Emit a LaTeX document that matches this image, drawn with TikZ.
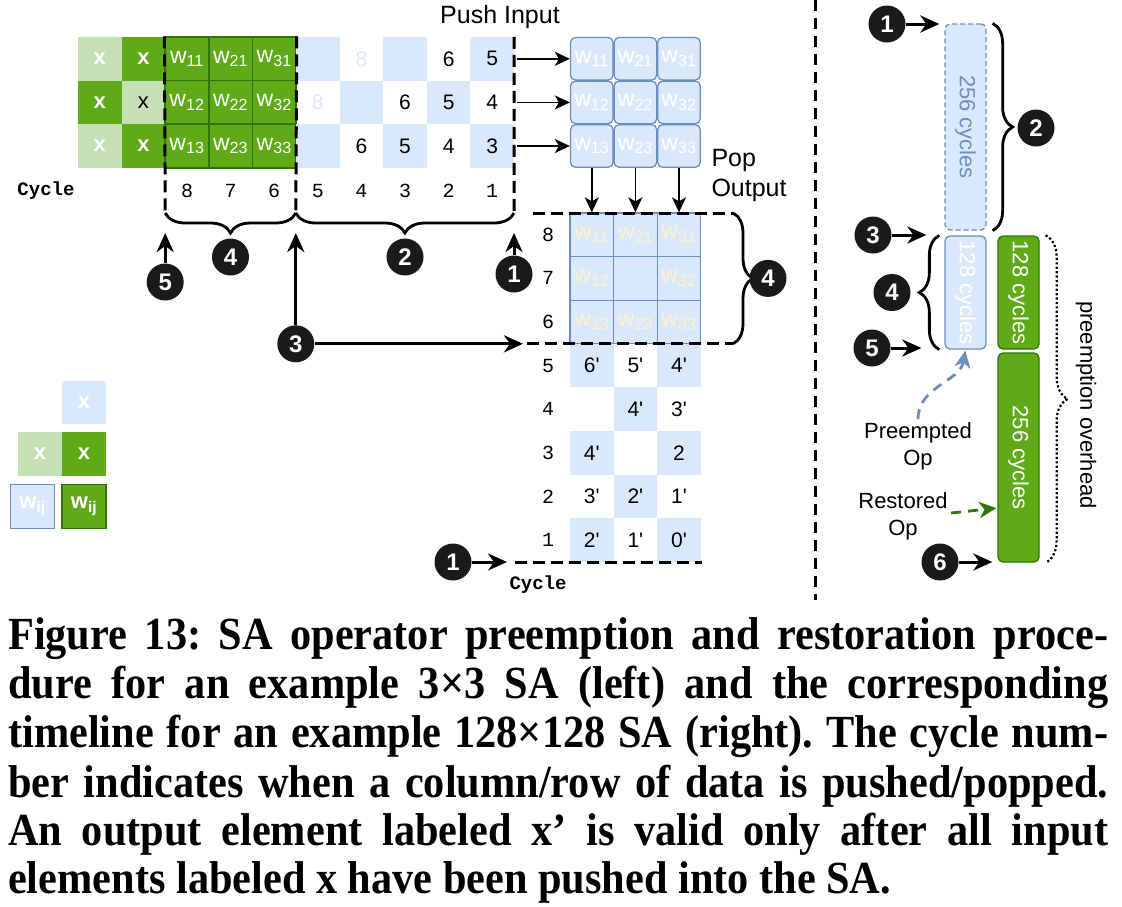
\documentclass[tikz,border=0pt]{standalone}
\usepackage{fontspec}
\setmainfont{Liberation Sans}
\newfontfamily\capfont[FakeStretch=0.92]{Liberation Serif}
\newfontfamily\cycfont{Liberation Mono}
\usepackage{xcolor}
\usepackage{tikz}
\usetikzlibrary{arrows.meta,positioning,calc,decorations.pathreplacing}
\definecolor{PaleBlue}{HTML}{DAE8FC}
\definecolor{EdgeBlue}{HTML}{6C8EBF}
\definecolor{SAGreen}{HTML}{60A917}
\definecolor{DarkGreen}{HTML}{2D7600}
\definecolor{PaleGreen}{HTML}{C5E0B4}
\definecolor{PaleYellow}{HTML}{FFF2CC}
\definecolor{Badge}{HTML}{1A1A1A}
\newcommand{\pq}{\textquotesingle}
\frenchspacing

\begin{document}
\begin{tikzpicture}[x=1pt,y=-1pt,
cell/.style={minimum width=43.6pt,minimum height=43.6pt,inner sep=0pt,font=\fontsize{21}{21}\selectfont},
bcell/.style={cell,fill=PaleBlue},
gcell/.style={cell,fill=SAGreen,text=white,font=\fontsize{22}{22}\selectfont\bfseries},
lgcell/.style={cell,fill=PaleGreen,text=white,font=\fontsize{22}{22}\selectfont\bfseries},
wgt/.style={cell,fill=SAGreen,draw=DarkGreen,line width=1.5pt,text=white,font=\fontsize{23}{23}\selectfont},
pe/.style={cell,minimum width=42.6pt,minimum height=42.6pt,fill=PaleBlue,draw=EdgeBlue,line width=1.3pt,rounded corners=5pt,text=white,font=\fontsize{23}{23}\selectfont},
outw/.style={cell,fill=PaleBlue,draw=EdgeBlue,line width=1.3pt,text=PaleYellow,font=\fontsize{23}{23}\selectfont},
num/.style={font=\cycfont\fontsize{20}{20}\selectfont},
cyc/.style={font=\cycfont\bfseries\fontsize{19}{19}\selectfont},
lab/.style={font=\fontsize{25}{30}\selectfont,align=left},
badge/.style={circle,fill=Badge,text=white,minimum size=37pt,inner sep=0pt,font=\fontsize{24}{24}\selectfont\bfseries},
arr/.style={-{Stealth[length=19pt,width=17pt,inset=6pt]},line width=3pt},
feed/.style={-{Stealth[length=15pt,width=14pt,inset=4pt]},line width=1.6pt},
cutline/.style={dash pattern=on 12pt off 6pt,line width=3pt},
brc/.style={decorate,decoration={brace,amplitude=20pt},line width=2.8pt},
dotbrc/.style={decorate,decoration={brace,amplitude=22pt},line width=2.2pt,dash pattern=on 2.2pt off 2.2pt},
tbox/.style={minimum width=41pt,inner sep=0pt,rounded corners=5pt,line width=1.3pt},
ttext/.style={rotate=-90,font=\fontsize{22}{22}\selectfont},
note/.style={align=center,font=\fontsize{22}{27}\selectfont},
bluearr/.style={-{Stealth[length=17pt,width=16pt,inset=5pt]},draw=EdgeBlue,line width=2.8pt,dash pattern=on 10pt off 7pt},
grarr/.style={-{Stealth[length=17pt,width=16pt,inset=5pt]},draw=DarkGreen,line width=2.8pt,dash pattern=on 10pt off 7pt},
capline/.style={anchor=base west,inner sep=0pt,font=\capfont\bfseries\fontsize{46}{46}\selectfont}]
\useasboundingbox (0,0) rectangle (1122,906);
% input side
\node[lgcell] (x1a) at (99.8,58.8) {x};
\node[gcell] (x1b) at (143.4,58.8) {x};
\node[wgt] (w11) at (187,58.8) {w\textsubscript{11}};
\node[wgt] (w21) at (230.6,58.8) {w\textsubscript{21}};
\node[wgt] (w31) at (274.2,58.8) {w\textsubscript{31}};
\node[bcell] (i1a) at (317.8,58.8) {};
\node[cell,text=PaleBlue] (i1b) at (361.4,58.8) {8};
\node[bcell] (i1c) at (405,58.8) {};
\node[cell] (i1d) at (448.6,58.8) {6};
\node[bcell] (i1e) at (492.2,58.8) {5};
\node[gcell] (x2a) at (99.8,102.4) {x};
\node[lgcell,text=black,font=\fontsize{22}{22}\selectfont] (x2b) at (143.4,102.4) {x};
\node[wgt] (w12) at (187,102.4) {w\textsubscript{12}};
\node[wgt] (w22) at (230.6,102.4) {w\textsubscript{22}};
\node[wgt] (w32) at (274.2,102.4) {w\textsubscript{32}};
\node[cell,text=PaleBlue] (i2a) at (317.8,102.4) {8};
\node[bcell] (i2b) at (361.4,102.4) {};
\node[cell] (i2c) at (405,102.4) {6};
\node[bcell] (i2d) at (448.6,102.4) {5};
\node[cell] (i2e) at (492.2,102.4) {4};
\node[lgcell] (x3a) at (99.8,146) {x};
\node[gcell] (x3b) at (143.4,146) {x};
\node[wgt] (w13) at (187,146) {w\textsubscript{13}};
\node[wgt] (w23) at (230.6,146) {w\textsubscript{23}};
\node[wgt] (w33) at (274.2,146) {w\textsubscript{33}};
\node[bcell] (i3a) at (317.8,146) {};
\node[cell] (i3b) at (361.4,146) {6};
\node[bcell] (i3c) at (405,146) {5};
\node[cell] (i3d) at (448.6,146) {4};
\node[bcell] (i3e) at (492.2,146) {3};
\node[cyc] (cyc1) at (46,191) {Cycle};
\node[num] (n8) at (187,191) {8};
\node[num] (n7) at (230.6,191) {7};
\node[num] (n6) at (274.2,191) {6};
\node[num] (n5) at (317.8,191) {5};
\node[num] (n4) at (361.4,191) {4};
\node[num] (n3) at (405,191) {3};
\node[num] (n2) at (448.6,191) {2};
\node[num] (n1) at (492.2,191) {1};
\coordinate (bL) at (165.2,213);
\coordinate (bM) at (295.8,213);
\coordinate (bR) at (514,213);
\draw[cutline] (w11.north west) -- (bL);
\draw[cutline] (w31.north east) -- (bM);
\draw[cutline] (i1e.north east) -- (bR);
\draw[brc] (bM) -- (bL);
\draw[brc] (bR) -- (bM);
\node[badge] (s5) at (165.2,282) {5};
\node[badge] (s4) at (230.5,257) {4};
\node[badge] (s2) at (405,257) {2};
\node[badge] (s1) at (514,274) {1};
\node[badge] (s3) at (295.8,343.8) {3};
\draw[arr,shorten >=20pt] (s5) -- (bL);
\draw[arr,shorten >=20pt] (s1) -- (bR);
\draw[arr,shorten >=20pt] (s3) -- (bM);
% systolic array
\node[lab] (push) at (500,17) {Push Input};
\node[pe] (p11) at (591.8,58.8) {w\textsubscript{11}};
\node[pe] (p21) at (635.4,58.8) {w\textsubscript{21}};
\node[pe] (p31) at (679,58.8) {w\textsubscript{31}};
\node[pe] (p12) at (591.8,102.4) {w\textsubscript{12}};
\node[pe] (p22) at (635.4,102.4) {w\textsubscript{22}};
\node[pe] (p32) at (679,102.4) {w\textsubscript{32}};
\node[pe] (p13) at (591.8,146) {w\textsubscript{13}};
\node[pe] (p23) at (635.4,146) {w\textsubscript{23}};
\node[pe] (p33) at (679,146) {w\textsubscript{33}};
\draw[feed,shorten <=3pt] (i1e.east) -- (p11.west);
\draw[feed,shorten <=3pt] (i2e.east) -- (p12.west);
\draw[feed,shorten <=3pt] (i3e.east) -- (p13.west);
\node[lab,anchor=west] (pop) at (708,175) {Pop\\Output};
% output side
\node[outw] (o11) at (591.8,234.8) {w\textsubscript{11}};
\node[outw] (o21) at (635.4,234.8) {w\textsubscript{21}};
\node[outw] (o31) at (679,234.8) {w\textsubscript{31}};
\node[outw] (o12) at (591.8,278.4) {w\textsubscript{12}};
\node[outw] (o22) at (635.4,278.4) {};
\node[outw] (o32) at (679,278.4) {w\textsubscript{32}};
\node[outw] (o13) at (591.8,322) {w\textsubscript{13}};
\node[outw] (o23) at (635.4,322) {w\textsubscript{23}};
\node[outw] (o33) at (679,322) {w\textsubscript{33}};
\draw[feed] (p13) -- (o11.north);
\draw[feed] (p23) -- (o21.north);
\draw[feed] (p33) -- (o31.north);
\node[bcell] (q5a) at (591.8,365.6) {6\pq};
\node[cell] (q5b) at (635.4,365.6) {5\pq};
\node[bcell] (q5c) at (679,365.6) {4\pq};
\node[cell] (q4a) at (591.8,409.2) {};
\node[bcell] (q4b) at (635.4,409.2) {4\pq};
\node[cell] (q4c) at (679,409.2) {3\pq};
\node[bcell] (q3a) at (591.8,452.8) {4\pq};
\node[cell] (q3b) at (635.4,452.8) {};
\node[bcell] (q3c) at (679,452.8) {2};
\node[cell] (q2a) at (591.8,496.4) {3\pq};
\node[bcell] (q2b) at (635.4,496.4) {2\pq};
\node[cell] (q2c) at (679,496.4) {1\pq};
\node[bcell] (q1a) at (591.8,540) {2\pq};
\node[cell] (q1b) at (635.4,540) {1\pq};
\node[bcell] (q1c) at (679,540) {0\pq};
\node[num] (m8) at (548,234.8) {8};
\node[num] (m7) at (548,278.4) {7};
\node[num] (m6) at (548,322) {6};
\node[num] (m5) at (548,365.6) {5};
\node[num] (m4) at (548,409.2) {4};
\node[num] (m3) at (548,452.8) {3};
\node[num] (m2) at (548,496.4) {2};
\node[num] (m1) at (548,540) {1};
\coordinate (oTL) at (533,213);
\coordinate (oTR) at (733,213);
\coordinate (oBL) at (527,343.8);
\coordinate (oBR) at (733,343.8);
\draw[cutline] (oTL) -- (oTR);
\draw[cutline] (oBL) -- (oBR);
\draw[brc] (oTR) -- (oBR);
\draw[arr,shorten >=4pt] (s3) -- (oBL);
\node[badge] (s4b) at (768,278.4) {4};
\coordinate (zL) at (515,562);
\coordinate (zR) at (702,562);
\draw[cutline] (zL) -- (zR);
\node[badge] (s1b) at (453,562) {1};
\draw[arr,shorten >=8pt] (s1b) -- (zL);
\node[cyc] (cyc2) at (538,585) {Cycle};
% legend
\node[bcell,text=white,font=\fontsize{22}{22}\selectfont\bfseries] (kx) at (84,402.5) {x};
\node[lgcell] (kg1) at (40,454) {x};
\node[gcell] (kg2) at (84,454) {x};
\node[cell,minimum width=44pt,fill=PaleBlue,draw=EdgeBlue,line width=1.5pt,text=white,font=\fontsize{22}{22}\selectfont\bfseries] (kw1) at (32.5,506.5) {w\textsubscript{ij}};
\node[wgt,minimum width=44pt,font=\fontsize{22}{22}\selectfont\bfseries] (kw2) at (84,506.5) {w\textsubscript{ij}};
% timeline
\coordinate (sepT) at (815,0);
\coordinate (sepB) at (815,600);
\draw[cutline,dash pattern=on 11pt off 7pt] (sepT) -- (sepB);
\node[tbox,minimum height=206pt,fill=PaleBlue,draw=EdgeBlue,dash pattern=on 5pt off 3pt] (t256a) at (965.5,127) {};
\node[ttext,text=EdgeBlue] (t256a-l) at (t256a) {256 cycles};
\node[tbox,minimum height=113pt,fill=PaleBlue,draw=EdgeBlue] (t128b) at (965.5,292.5) {};
\node[ttext,text=white] (t128b-l) at (t128b) {128 cycles};
\node[tbox,minimum height=113pt,fill=SAGreen,draw=DarkGreen] (t128g) at (1018.5,292.5) {};
\node[ttext,text=white] (t128g-l) at (t128g) {128 cycles};
\node[tbox,minimum height=209pt,fill=SAGreen,draw=DarkGreen] (t256g) at (1018.5,457.5) {};
\node[ttext,text=white] (t256g-l) at (t256g) {256 cycles};
\node[badge] (r1) at (887,24) {1};
\draw[arr,shorten >=5pt] (r1) -- (r1 -| t256a.west);
\draw[brc] ([xshift=6pt]t256a.north east) -- ([xshift=6pt]t256a.south east);
\node[badge] (r2) at (1036,128) {2};
\node[badge] (r3) at (873,235) {3};
\draw[arr,shorten >=18pt] (r3) -- (r3 -| t128b.west);
\draw[brc] ([xshift=-5pt]t128b.south west) -- ([xshift=-5pt]t128b.north west);
\node[badge] (r4) at (892,292.5) {4};
\node[badge] (r5) at (872,348) {5};
\draw[arr,shorten >=23pt] (r5) -- (r5 -| t128b.west);
\node[badge] (r6) at (940,562) {6};
\draw[arr,shorten >=5pt] (r6) -- (r6 -| t256g.west);
\draw[dotbrc] ([xshift=6pt]t128g.north east) -- ([xshift=6pt]t256g.south east);
\node[ttext] (ovh) at (1086,405) {preemption overhead};
\node[note] (pre) at (918,446.5) {Preempted\\Op};
\node[note] (res) at (903,516) {Restored\\Op};
\draw[bluearr,shorten >=1pt] (pre.north) to[out=90,in=-100] (t128b.south);
\draw[grarr,shorten >=1pt] ([yshift=3pt]res.east) -- ([yshift=8pt]res.east -| t256g.west);
% caption
\node[capline] (cap1) at (8,649) {\makebox[1100pt][s]{Figure 13: SA operator preemption and restoration proce-}};
\node[capline] (cap2) at (8,698) {\makebox[1100pt][s]{dure for an example 3×3 SA (left) and the corresponding}};
\node[capline] (cap3) at (8,747) {\makebox[1100pt][s]{timeline for an example 128×128 SA (right). The cycle num-}};
\node[capline] (cap4) at (8,797) {\makebox[1100pt][s]{ber indicates when a column/row of data is pushed/popped.}};
\node[capline] (cap5) at (8,845) {\makebox[1100pt][s]{An output element labeled x’ is valid only after all input}};
\node[capline] (cap6) at (8,893) {elements labeled x have been pushed into the SA.};
\end{tikzpicture}
\end{document}
